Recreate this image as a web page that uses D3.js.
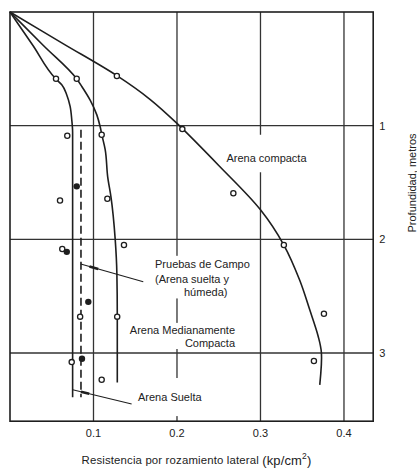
<!DOCTYPE html>
<html><head><meta charset="utf-8">
<script src="https://cdn.jsdelivr.net/npm/d3@7"></script>
<style>body{margin:0;background:#fff}svg{display:block}text{font-family:"Liberation Sans",Arial,sans-serif;fill:#222}</style>
</head><body><svg id="c" width="417" height="471"></svg>
<script>
// ---- data (x = kp/cm², d = profundidad m) ----
const xTicks = [0.1, 0.2, 0.3, 0.4];
const yTicks = [1, 2, 3];
const xTickLabels = ["0.1", "0.2", "0.3", "0.4"];
const yTickLabels = ["1", "2", "3"];

const sueltaCurve = [[0,0],[0.0275,0.295],[0.055,0.59],[0.062,0.64],[0.068,0.73],[0.072,0.83],[0.074,0.95],[0.075,1.06],[0.075,3.39]];
const medCurve = [[0,0],[0.04,0.295],[0.080,0.59],[0.086,0.655],[0.096,0.775],[0.104,0.905],[0.108,1.01],[0.110,1.08],[0.114,1.21],[0.117,1.45],[0.121,1.63],[0.126,2.0],[0.128,2.3],[0.1285,2.68],[0.1285,3.26]];
const compCurve = [[0,0],[0.064,0.28],[0.128,0.56],[0.168,0.77],[0.2,0.98],[0.25,1.35],[0.3,1.74],[0.328,2.05],[0.347,2.36],[0.359,2.62],[0.369,2.85],[0.373,3.0],[0.371,3.28]];
const campoLine = [[0.085,1.035],[0.085,3.39]];

const sueltaPts = [[0.0551,0.587],[0.0686,1.089],[0.0599,1.658],[0.0626,2.085],[0.084,2.68],[0.0739,3.08]];
const medPts = [[0.0799,0.587],[0.1098,1.08],[0.1166,1.643],[0.1365,2.05],[0.1284,2.68],[0.1098,3.235]];
const compPts = [[0.128,0.563],[0.2064,1.03],[0.2675,1.595],[0.328,2.05],[0.376,2.655],[0.364,3.07]];
const campoPts = [[0.0799,1.534],[0.068,2.11],[0.0938,2.55],[0.0862,3.05]];

const labels = [
  {t:"Arena compacta", x:0.3072, d:1.284, a:"middle"},
  {t:"Pruebas de Campo", x:0.1737, d:2.217, a:"start"},
  {t:"(Arena suelta y", x:0.1737, d:2.349, a:"start"},
  {t:"húmeda)", x:0.2084, d:2.463, a:"start"},
  {t:"Arena Medianamente", x:0.2695, d:2.797, a:"end"},
  {t:"Compacta", x:0.2695, d:2.908, a:"end"},
  {t:"Arena Suelta", x:0.1533, d:3.387, a:"start"}
];
// white gaps in the grid behind label blocks [x0,d0,x1,d1]
const gaps = [[0.2515,1.08,0.363,1.41],[0.1677,2.145,0.29,2.52],[0.134,2.735,0.276,2.965],[0.147,3.22,0.236,3.555]];
const leaders = [[[0.0847,2.217],[0.1596,2.373]],[[0.0751,3.323],[0.1457,3.449]]];

// ---- scales ----
const x = d3.scaleLinear().domain([0,0.435]).range([10,373.2]);
const y = d3.scaleLinear().domain([0,3.6]).range([12,421.2]);
const svg = d3.select("#c");
const X0 = x(0), X1 = x(0.435), Y0 = y(0), Y1 = y(3.6);
const ink = "#1e1e1e";

// grid
svg.selectAll(".vg").data(xTicks).join("line").attr("x1",d=>x(d)).attr("x2",d=>x(d)).attr("y1",Y0).attr("y2",Y1).attr("stroke","#333").attr("stroke-width",1.3);
svg.selectAll(".hg").data(yTicks).join("line").attr("y1",d=>y(d)).attr("y2",d=>y(d)).attr("x1",X0).attr("x2",X1).attr("stroke","#333").attr("stroke-width",1.3);
// gaps
svg.selectAll(".gap").data(gaps).join("rect").attr("x",d=>x(d[0])).attr("y",d=>y(d[1])).attr("width",d=>x(d[2])-x(d[0])).attr("height",d=>y(d[3])-y(d[1])).attr("fill","#fff");
// frame
svg.append("rect").attr("x",X0).attr("y",Y0).attr("width",X1-X0).attr("height",Y1-Y0).attr("fill","none").attr("stroke",ink).attr("stroke-width",1.6);

// curves
const line = d3.line().x(d=>x(d[0])).y(d=>y(d[1])).curve(d3.curveMonotoneY);
const smooth = d3.line().x(d=>x(d[0])).y(d=>y(d[1])).curve(d3.curveCatmullRom.alpha(0.5));
[sueltaCurve, medCurve].forEach(c=>svg.append("path").attr("d",line(c)).attr("fill","none").attr("stroke",ink).attr("stroke-width",1.6));
svg.append("path").attr("d",smooth(compCurve)).attr("fill","none").attr("stroke",ink).attr("stroke-width",1.6);
svg.append("path").attr("d",d3.line().x(d=>x(d[0])).y(d=>y(d[1]))(campoLine)).attr("fill","none").attr("stroke",ink).attr("stroke-width",1.6).attr("stroke-dasharray","8,4");

// leaders
leaders.forEach(l=>{
  svg.append("line").attr("x1",x(l[0][0])).attr("y1",y(l[0][1])).attr("x2",x(l[1][0])).attr("y2",y(l[1][1])).attr("stroke",ink).attr("stroke-width",1.1);
  const p=t=>[x(l[0][0])+(x(l[1][0])-x(l[0][0]))*t, y(l[0][1])+(y(l[1][1])-y(l[0][1]))*t];
  const a=p(0.14), b=p(0.28);
  svg.append("line").attr("x1",a[0]).attr("y1",a[1]).attr("x2",b[0]).attr("y2",b[1]).attr("stroke",ink).attr("stroke-width",2.6);
});

// points
svg.selectAll(".op").data([...sueltaPts,...medPts,...compPts]).join("circle").attr("cx",d=>x(d[0])).attr("cy",d=>y(d[1])).attr("r",2.6).attr("fill","#fff").attr("stroke",ink).attr("stroke-width",1.3);
svg.selectAll(".fp").data(campoPts).join("circle").attr("cx",d=>x(d[0])).attr("cy",d=>y(d[1])).attr("r",3.2).attr("fill",ink);

// labels
svg.selectAll(".lb").data(labels).join("text").attr("x",d=>x(d.x)).attr("y",d=>y(d.d)).attr("text-anchor",d=>d.a).attr("dominant-baseline","central").attr("font-size",11).text(d=>d.t);

// ticks
svg.selectAll(".xt").data(xTicks).join("text").attr("x",d=>x(d)).attr("y",Y1+12).attr("text-anchor","middle").attr("dominant-baseline","central").attr("font-size",11).text((d,i)=>xTickLabels[i]);
svg.selectAll(".yt").data(yTicks).join("text").attr("x",X1+9).attr("y",d=>y(d)).attr("text-anchor","middle").attr("dominant-baseline","central").attr("font-size",11).text((d,i)=>yTickLabels[i]);

// axis titles
const xt = svg.append("text").attr("x",196.5).attr("y",460).attr("text-anchor","middle").attr("dominant-baseline","central").attr("font-size",11.4).attr("letter-spacing",0.15);
xt.append("tspan").text("Resistencia por rozamiento lateral ");
xt.append("tspan").attr("font-size",13).text("(kp/cm");
xt.append("tspan").attr("font-size",8.5).attr("dy",-4.5).text("2");
xt.append("tspan").attr("font-size",13).attr("dy",4.5).text(")");
svg.append("text").attr("transform","translate(412,183) rotate(-90)").attr("text-anchor","middle").attr("dominant-baseline","central").attr("font-size",11).text("Profundidad, metros");
</script></body></html>
